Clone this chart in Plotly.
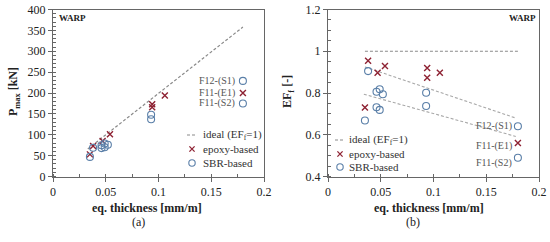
import plotly.graph_objects as go

# eq. thickness [mm/m]
epoxy_x = [0.035, 0.038, 0.047, 0.054, 0.094, 0.094, 0.106, 0.18]
epoxy_P = [53, 73, 85, 101, 173, 166, 194, 200]
epoxy_EF = [0.73, 0.955, 0.897, 0.929, 0.92, 0.873, 0.897, 0.56]

sbr_x = [0.035, 0.038, 0.046, 0.049, 0.052, 0.046, 0.049, 0.093, 0.093, 0.18, 0.18]
sbr_P = [47, 69, 75, 79, 76, 68, 70, 148, 137, 229, 175]
sbr_EF = [0.668, 0.905, 0.806, 0.818, 0.794, 0.732, 0.719, 0.801, 0.738, 0.641, 0.49]

ideal_x = [0.033, 0.18]
ideal_P = [66, 358]
ideal_EF_x = [0.035, 0.18]
ideal_EF = [1.0, 1.0]

fit_hi_x = [0.035, 0.178]
fit_hi_y = [0.925, 0.68]
fit_lo_x = [0.034, 0.178]
fit_lo_y = [0.794, 0.592]

labels = ["F12-(S1)", "F11-(E1)", "F11-(S2)"]
labels_P = [229, 200, 175]
labels_EF = [0.641, 0.56, 0.49]

legend_names = ["ideal (EF<sub>f</sub>=1)", "epoxy-based", "SBR-based"]

RED = "#8e2233"
BLUE = "#5a7fa8"
GREY = "#8a8a8a"
FONT = "Liberation Serif"
W, H = 550, 242


def px(x):
    return x / W


def py(y):
    return 1 - y / H


fig = go.Figure()

# panel (a)
fig.add_trace(go.Scatter(x=ideal_x, y=ideal_P, mode="lines",
                         line=dict(color=GREY, width=1.2, dash="3px,2px")))
fig.add_trace(go.Scatter(x=epoxy_x, y=epoxy_P, mode="markers",
                         marker=dict(symbol="x-thin-open", size=6, color=RED, line=dict(color=RED, width=1.4))))
fig.add_trace(go.Scatter(x=sbr_x, y=sbr_P, mode="markers",
                         marker=dict(symbol="circle-open", size=7, color=BLUE, line=dict(width=1.1))))

# panel (b)
fig.add_trace(go.Scatter(x=ideal_EF_x, y=ideal_EF, mode="lines",
                         line=dict(color=GREY, width=1.2, dash="3px,2px"), xaxis="x2", yaxis="y2"))
fig.add_trace(go.Scatter(x=fit_hi_x, y=fit_hi_y, mode="lines",
                         line=dict(color="#a8a8a8", width=1.1, dash="3px,2px"), xaxis="x2", yaxis="y2"))
fig.add_trace(go.Scatter(x=fit_lo_x, y=fit_lo_y, mode="lines",
                         line=dict(color="#a8a8a8", width=1.1, dash="3px,2px"), xaxis="x2", yaxis="y2"))
fig.add_trace(go.Scatter(x=epoxy_x, y=epoxy_EF, mode="markers",
                         marker=dict(symbol="x-thin-open", size=6, color=RED, line=dict(color=RED, width=1.4)),
                         xaxis="x2", yaxis="y2"))
fig.add_trace(go.Scatter(x=sbr_x, y=sbr_EF, mode="markers",
                         marker=dict(symbol="circle-open", size=7, color=BLUE, line=dict(width=1.1)),
                         xaxis="x2", yaxis="y2"))

ax = dict(showline=True, mirror=True, linecolor="#666", linewidth=1, showgrid=False, zeroline=False,
          ticks="outside", ticklen=4, tickcolor="#666", automargin=False,
          tickfont=dict(family=FONT, size=12, color="#222"))
mn = dict(ticks="inside", ticklen=3, tickcolor="#666")
ydom = [py(176.5), py(9.5)]
fig.update_layout(
    width=W, height=H, margin=dict(l=0, r=0, t=0, b=0), showlegend=False,
    paper_bgcolor="white", plot_bgcolor="white",
    font=dict(family=FONT, size=10, color="#222"),
    xaxis=dict(ax, domain=[px(53), px(264)], range=[0, 0.2], dtick=0.05, minor=dict(mn, dtick=0.025)),
    yaxis=dict(ax, domain=ydom, range=[0, 400], dtick=50, minor=dict(mn, dtick=10)),
    xaxis2=dict(ax, anchor="y2", domain=[px(328), px(539)], range=[0, 0.2], dtick=0.05,
                minor=dict(mn, dtick=0.025)),
    yaxis2=dict(ax, anchor="x2", domain=ydom, range=[0.4, 1.2], dtick=0.2,
                minor=dict(mn, dtick=0.05)),
)

ann = []
shapes = []


def note(text, x, y, size=10, **kw):
    d = dict(text=text, x=px(x), y=py(y), xref="paper", yref="paper", showarrow=False,
             xanchor="center", yanchor="middle", font=dict(size=size, color=kw.pop("color", "#222")))
    d.update(kw)
    ann.append(d)


note("<b>WARP</b>", 72, 18, 9)
note("<b>WARP</b>", 522, 18, 9)
note("<b>eq. thickness [mm/m]</b>", 147, 208, 12)
note("<b>eq. thickness [mm/m]</b>", 429, 208, 12)
note("(a)", 138, 222, 12)
note("(b)", 413, 222, 12)
note("<b>P<sub>max</sub> [kN]</b>", 14, 92, 12, textangle=-90)
note("<b>EF<sub>f</sub> [-]</b>", 288, 92, 12, textangle=-90)

# legends drawn by hand (glyph + label)
for gx, tx, rows in [(192, 201, [135, 149, 163]), (340, 347, [140, 154, 167])]:
    for i, (name, ry) in enumerate(zip(legend_names, rows)):
        note(name, tx, ry, 11, xanchor="left", color="#333")
        if i == 0:
            shapes.append(dict(type="line", xref="paper", yref="paper", x0=px(gx - 5), x1=px(gx + 4),
                               y0=py(ry), y1=py(ry), line=dict(color=GREY, width=1.2, dash="3px,2px")))
        elif i == 1:
            d = 2.6
            shapes.append(dict(type="path", xref="paper", yref="paper",
                               path=f"M{px(gx - d)},{py(ry - d)} L{px(gx + d)},{py(ry + d)} "
                                    f"M{px(gx - d)},{py(ry + d)} L{px(gx + d)},{py(ry - d)}",
                               line=dict(color=RED, width=1.3)))
        else:
            r = 3.2
            shapes.append(dict(type="circle", xref="paper", yref="paper", x0=px(gx - r), x1=px(gx + r),
                               y0=py(ry + r), y1=py(ry - r), line=dict(color=BLUE, width=1.1)))

for t, p in zip(labels, labels_P):
    ann.append(dict(text=t, x=0.18, y=p, xref="x", yref="y", showarrow=False, xanchor="right",
                    xshift=-6, font=dict(size=10, color="#555")))
for t, e, s in zip(labels, labels_EF, [0, -3, -5]):
    ann.append(dict(text=t, x=0.18, y=e, xref="x2", yref="y2", showarrow=False, xanchor="right",
                    xshift=-4, yshift=s, font=dict(size=10, color="#555")))
fig.update_layout(annotations=ann, shapes=shapes)

# the page's default body margin would push the figure 8px off; remove it
fig.write_html("out.html", config={"displayModeBar": False},
               post_script="document.body.style.margin='0';")
